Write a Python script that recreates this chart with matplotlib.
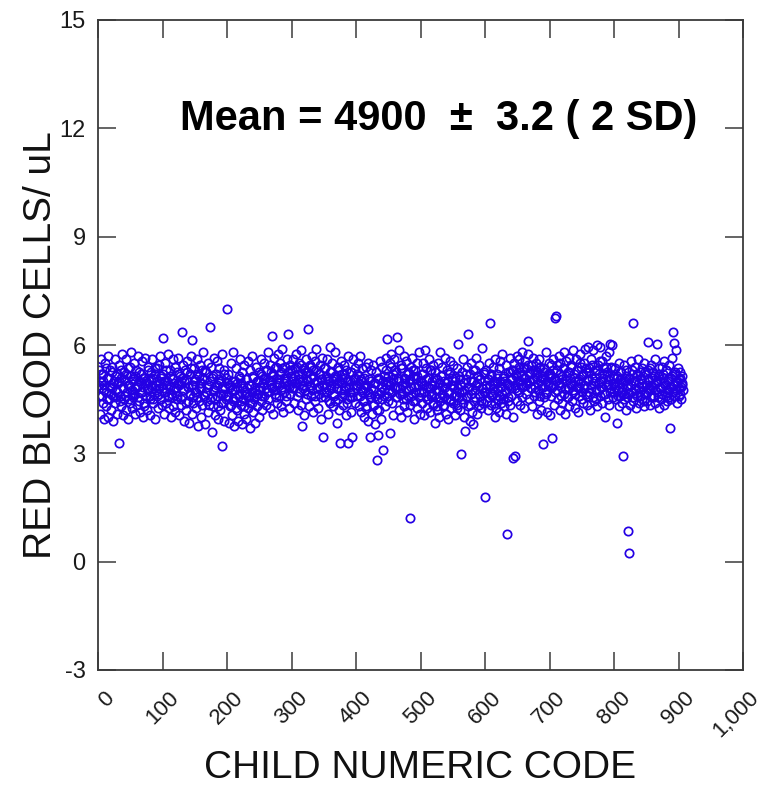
import numpy as np
import matplotlib
matplotlib.use('Agg')
import matplotlib.pyplot as plt
from matplotlib.transforms import ScaledTranslation

plt.rcParams['font.family'] = ['Liberation Sans', 'DejaVu Sans']

# red blood cell counts in blocks of 100 child codes
rbc_001_100 = [5.3, 4.6, 4.1, 5.0, 5.6, 4.8, 4.4, 5.2, 3.95, 4.9,
               5.5, 4.7, 4.3, 5.1, 4.0, 5.7, 4.5, 4.9, 5.3, 4.2,
               4.8, 5.4, 4.6, 3.9, 5.0, 5.6, 4.4, 4.75, 5.2, 4.1,
               4.95, 5.45, 3.3, 4.6, 5.1, 4.3, 5.75, 4.85, 4.05, 5.25,
               4.5, 5.0, 5.6, 4.2, 4.7, 5.35, 3.95, 4.9, 5.15, 4.4,
               5.8, 4.65, 4.25, 5.05, 4.55, 5.5, 4.1, 4.8, 5.3, 4.35,
               4.9, 5.7, 4.45, 5.0, 4.15, 5.2, 4.7, 5.55, 4.0, 4.85,
               5.1, 4.3, 5.65, 4.6, 4.95, 4.2, 5.4, 4.75, 5.0, 4.5,
               4.05, 5.25, 4.8, 5.6, 4.4, 5.1, 4.65, 3.95, 5.35, 4.9,
               4.6, 5.0, 4.25, 5.45, 4.8, 5.7, 4.5, 5.15, 4.35, 6.2]
rbc_101_200 = [5.2, 4.7, 4.1, 5.5, 4.9, 4.4, 5.0, 5.75, 4.6, 4.25,
               5.3, 4.85, 4.0, 5.1, 4.55, 5.6, 4.3, 4.95, 5.4, 4.15,
               4.8, 5.25, 4.5, 5.65, 4.05, 4.9, 5.15, 4.35, 5.0, 6.35,
               4.6, 5.45, 3.9, 4.75, 5.3, 4.2, 5.05, 5.55, 4.45, 4.85,
               3.85, 5.2, 4.65, 5.7, 4.1, 6.15, 4.9, 4.4, 5.35, 4.7,
               5.0, 4.25, 5.6, 4.55, 3.75, 5.15, 4.8, 5.45, 4.0, 4.95,
               5.3, 4.35, 5.8, 4.6, 5.05, 3.8, 4.7, 5.25, 4.45, 5.5,
               4.15, 4.9, 6.5, 4.5, 5.4, 3.6, 5.1, 4.75, 4.3, 5.65,
               4.85, 4.05, 5.2, 4.6, 5.55, 3.95, 4.95, 5.35, 4.2, 5.0,
               4.4, 3.2, 5.75, 4.65, 5.3, 3.9, 4.8, 5.1, 4.5, 7.0]
rbc_201_300 = [4.6, 5.2, 3.85, 4.9, 4.3, 5.5, 4.05, 4.75, 5.8, 4.45,
               3.75, 5.0, 4.55, 5.35, 4.2, 4.85, 3.9, 5.15, 4.65, 5.6,
               4.35, 4.95, 3.8, 5.25, 4.5, 4.1, 5.45, 4.7, 3.95, 5.05,
               4.8, 5.55, 4.25, 4.6, 3.7, 5.3, 4.9, 4.4, 5.7, 4.15,
               5.1, 4.55, 3.85, 4.75, 5.4, 4.3, 5.0, 4.65, 5.25, 4.0,
               4.85, 5.6, 4.45, 5.15, 4.2, 4.95, 5.5, 4.6, 5.05, 4.35,
               5.3, 4.7, 5.8, 4.5, 5.0, 4.25, 5.45, 4.9, 6.25, 4.8,
               5.2, 4.1, 5.65, 4.75, 5.35, 4.55, 5.05, 4.4, 5.75, 4.95,
               4.6, 5.5, 4.3, 5.25, 4.85, 5.9, 4.15, 5.1, 4.7, 5.4,
               5.0, 4.45, 5.6, 4.9, 6.3, 4.25, 5.3, 4.65, 5.15, 4.8]
rbc_301_400 = [5.3, 4.8, 5.6, 4.4, 5.15, 4.95, 5.75, 4.6, 5.4, 4.2,
               5.05, 5.5, 4.7, 5.85, 4.35, 5.2, 3.75, 4.9, 5.35, 4.05,
               4.75, 5.6, 4.5, 5.25, 5.0, 6.45, 4.3, 5.45, 4.85, 5.1,
               4.6, 5.7, 4.15, 5.3, 4.95, 5.55, 4.45, 5.9, 4.8, 5.0,
               4.25, 5.2, 4.65, 5.45, 3.95, 5.05, 4.9, 5.65, 3.45, 4.7,
               5.35, 4.55, 5.15, 4.85, 5.6, 4.1, 5.0, 4.75, 5.95, 4.4,
               5.25, 4.9, 5.5, 4.3, 5.1, 4.65, 5.8, 4.45, 5.05, 3.85,
               4.8, 5.4, 4.2, 5.0, 3.3, 4.95, 5.55, 4.6, 5.2, 4.35,
               5.45, 4.75, 5.1, 4.05, 5.3, 4.5, 5.7, 3.3, 4.85, 5.0,
               4.55, 5.25, 4.15, 3.45, 5.6, 4.7, 5.05, 4.4, 5.35, 4.9]
rbc_401_500 = [5.2, 4.6, 5.5, 4.3, 4.95, 5.7, 4.15, 5.05, 4.7, 5.35,
               4.45, 5.1, 4.0, 4.8, 5.4, 4.25, 4.9, 5.5, 3.9, 4.65,
               5.0, 3.45, 4.55, 5.3, 4.1, 4.75, 5.45, 4.35, 3.8, 4.95,
               5.25, 2.82, 4.5, 3.5, 5.05, 4.2, 5.55, 4.7, 3.95, 4.85,
               5.4, 3.1, 4.6, 5.15, 4.3, 5.65, 4.9, 6.18, 4.45, 5.0,
               4.75, 5.5, 3.55, 4.95, 5.75, 4.4, 5.2, 4.05, 5.6, 4.8,
               5.3, 4.55, 6.22, 4.85, 5.1, 4.2, 5.85, 4.65, 5.45, 4.0,
               4.9, 5.35, 4.5, 5.7, 4.3, 5.05, 4.75, 5.55, 4.15, 5.25,
               4.6, 5.0, 4.35, 1.2, 5.4, 4.85, 5.65, 4.45, 5.15, 3.95,
               5.3, 4.7, 5.05, 4.25, 5.5, 4.9, 4.55, 5.8, 4.1, 5.0]
rbc_501_600 = [4.7, 5.2, 4.4, 5.5, 4.05, 4.9, 5.85, 4.6, 5.35, 4.25,
               5.1, 4.5, 5.6, 4.8, 4.15, 5.3, 4.65, 5.0, 4.35, 5.45,
               4.9, 3.85, 5.25, 4.55, 5.05, 4.2, 5.5, 4.75, 4.0, 5.8,
               4.45, 5.15, 4.85, 5.4, 4.3, 5.0, 4.6, 5.65, 4.1, 4.95,
               5.3, 4.7, 3.95, 5.2, 4.5, 5.55, 4.25, 4.9, 5.1, 4.4,
               5.45, 4.8, 4.05, 5.0, 4.6, 5.35, 4.35, 6.04, 4.7, 5.15,
               4.2, 4.9, 2.97, 5.25, 4.5, 5.6, 4.0, 4.75, 3.63, 5.05,
               4.55, 5.4, 4.3, 6.3, 4.85, 5.2, 3.9, 4.65, 5.5, 4.15,
               3.8, 5.0, 4.45, 5.3, 4.75, 5.65, 4.1, 4.95, 5.15, 4.35,
               5.45, 4.6, 5.05, 4.25, 5.93, 4.8, 4.4, 5.25, 4.7, 1.78]
rbc_601_700 = [4.9, 5.3, 4.45, 5.05, 4.2, 5.5, 4.7, 6.62, 4.35, 5.15,
               4.6, 5.4, 4.8, 5.0, 4.0, 5.6, 4.25, 4.95, 5.2, 4.5,
               5.35, 4.15, 4.85, 5.55, 4.4, 5.76, 4.65, 5.1, 4.3, 5.0,
               4.75, 5.45, 4.1, 0.77, 5.25, 4.55, 4.9, 5.65, 4.35, 5.05,
               4.6, 5.3, 2.88, 4.0, 5.5, 2.92, 4.8, 5.15, 4.45, 5.7,
               5.0, 4.7, 5.6, 4.35, 5.25, 4.9, 5.8, 4.55, 5.4, 4.25,
               5.1, 5.55, 4.65, 5.35, 4.95, 5.75, 6.1, 4.5, 5.2, 5.0,
               4.8, 5.45, 4.3, 5.65, 5.05, 4.6, 5.3, 4.85, 5.5, 4.1,
               5.25, 4.75, 5.6, 4.45, 5.0, 5.4, 4.2, 5.15, 4.9, 3.27,
               4.55, 5.35, 5.05, 4.7, 5.8, 4.15, 5.2, 4.95, 5.5, 4.05]
rbc_701_800 = [5.2, 4.6, 5.45, 3.43, 4.9, 5.6, 4.35, 6.76, 5.05, 6.8,
               4.75, 5.3, 4.5, 5.7, 4.95, 4.2, 5.5, 4.85, 5.15, 4.4,
               5.35, 4.65, 5.8, 4.1, 5.0, 5.55, 4.55, 5.25, 4.8, 5.65,
               4.3, 5.1, 4.9, 5.45, 4.45, 5.85, 4.7, 5.2, 4.25, 5.0,
               5.6, 4.85, 5.3, 4.15, 5.05, 4.6, 5.75, 4.95, 5.4, 4.5,
               5.15, 4.4, 5.5, 4.8, 5.9, 4.65, 5.25, 4.35, 5.0, 5.95,
               4.7, 5.35, 4.2, 5.6, 4.9, 5.1, 4.55, 5.85, 4.45, 5.3,
               5.0, 4.75, 6.0, 4.3, 5.45, 4.95, 5.2, 4.6, 5.95, 4.85,
               5.55, 4.4, 5.1, 4.65, 5.35, 4.0, 5.7, 4.9, 5.25, 4.5,
               5.05, 5.8, 4.35, 6.04, 4.8, 5.4, 6.0, 4.55, 5.15, 4.7]
rbc_801_907 = [4.95, 5.35, 4.5, 5.15, 3.85, 4.75, 5.5, 4.3, 5.05, 4.6,
               5.25, 4.85, 4.4, 2.93, 5.45, 4.65, 5.0, 4.2, 5.3, 4.55,
               4.9, 0.85, 0.25, 5.1, 4.35, 5.55, 4.7, 5.2, 6.62, 4.45,
               5.0, 4.8, 5.4, 4.25, 5.15, 4.6, 5.6, 4.95, 4.4, 5.25,
               4.7, 5.05, 4.5, 5.35, 4.85, 4.3, 5.5, 4.65, 5.2, 4.9,
               4.45, 5.3, 6.07, 4.75, 5.0, 4.35, 5.45, 4.6, 5.1, 4.85,
               5.25, 4.55, 5.6, 4.4, 4.95, 6.04, 4.7, 5.15, 4.25, 5.35,
               4.8, 5.05, 4.5, 5.4, 4.65, 5.2, 4.35, 5.55, 4.9, 4.6,
               5.3, 4.45, 5.0, 4.75, 5.45, 4.55, 3.7, 5.1, 4.85, 5.65,
               6.35, 4.7, 6.05, 5.2, 4.6, 5.85, 4.95, 4.4, 5.35, 4.8,
               5.05, 4.65, 5.25, 4.5, 4.9, 5.15, 4.75]

# second reading of every even child code (the dense core of the band)
rbc2_001_100 = [4.9, 5.2, 4.6, 5.0, 4.75, 5.35, 4.5, 5.1, 4.85, 4.65,
                5.25, 4.95, 4.55, 5.15, 4.7, 5.0, 4.45, 5.3, 4.8, 5.05,
                4.6, 5.2, 4.9, 4.5, 5.4, 4.75, 5.0, 4.65, 5.15, 4.85,
                4.55, 5.25, 4.95, 4.7, 5.1, 4.4, 5.0, 4.8, 5.3, 4.6,
                5.05, 4.9, 4.5, 5.2, 4.75, 5.35, 4.65, 4.95, 5.1, 4.8]
rbc2_101_200 = [5.0, 4.7, 5.3, 4.55, 4.9, 5.15, 4.65, 5.05, 4.8, 5.4,
                4.6, 4.95, 5.2, 4.5, 5.1, 4.75, 5.0, 4.4, 5.25, 4.85,
                4.65, 5.35, 4.9, 4.55, 5.05, 4.7, 5.2, 4.45, 4.95, 4.8,
                5.1, 4.6, 5.3, 4.7, 4.85, 4.35, 5.0, 4.55, 5.15, 4.75,
                4.5, 4.9, 4.3, 5.05, 4.65, 4.8, 4.4, 5.2, 4.6, 4.95]
rbc2_201_300 = [4.6, 4.85, 4.35, 5.0, 4.5, 4.75, 4.25, 4.95, 4.6, 5.1,
                4.45, 4.8, 4.3, 4.65, 5.05, 4.55, 4.9, 4.4, 4.7, 5.15,
                4.5, 4.85, 4.65, 5.0, 4.75, 5.2, 4.6, 4.95, 5.1, 4.8,
                5.3, 4.7, 5.0, 5.25, 4.85, 5.15, 4.65, 5.4, 4.9, 5.05,
                5.2, 4.75, 5.35, 4.95, 5.1, 4.6, 5.25, 4.85, 5.45, 5.0]
rbc2_301_400 = [5.1, 4.85, 5.35, 4.95, 5.2, 4.7, 5.45, 5.0, 4.8, 5.3,
                5.05, 4.65, 5.25, 4.9, 5.4, 4.75, 5.15, 4.6, 5.3, 5.0,
                4.85, 5.2, 4.55, 5.05, 4.9, 5.35, 4.7, 5.1, 4.45, 5.25,
                4.8, 5.0, 4.6, 5.15, 4.95, 4.5, 5.3, 4.75, 5.05, 4.65,
                5.2, 4.85, 4.4, 5.0, 4.7, 5.25, 4.55, 4.9, 5.1, 4.8]
rbc2_401_500 = [4.9, 5.15, 4.6, 5.0, 4.75, 4.45, 4.9, 4.3, 4.7, 5.05,
                4.55, 4.8, 4.35, 4.95, 4.6, 4.2, 5.1, 4.65, 4.85, 4.5,
                5.0, 4.75, 5.3, 4.6, 5.15, 4.9, 5.4, 4.7, 5.05, 4.85,
                5.25, 4.55, 5.0, 4.8, 5.35, 4.65, 5.1, 4.95, 4.5, 5.2,
                4.75, 5.05, 4.6, 5.3, 4.85, 4.45, 5.15, 4.9, 4.7, 5.0]
rbc2_501_600 = [4.95, 5.2, 4.7, 5.05, 4.5, 4.85, 5.3, 4.6, 4.9, 4.4,
                5.1, 4.75, 4.3, 4.95, 4.55, 5.15, 4.65, 4.35, 4.85, 4.5,
                5.0, 4.7, 5.25, 4.45, 4.9, 4.6, 5.1, 4.25, 4.8, 4.55,
                5.05, 4.7, 4.4, 4.95, 5.2, 4.6, 4.85, 4.35, 5.0, 4.75,
                5.3, 4.55, 4.9, 5.15, 4.65, 5.05, 4.45, 4.8, 5.2, 4.7]
rbc2_601_700 = [4.8, 5.05, 4.55, 4.9, 5.2, 4.65, 4.95, 4.4, 5.1, 4.75,
                4.6, 5.0, 4.85, 4.5, 5.15, 4.7, 4.95, 4.45, 5.25, 4.8,
                5.05, 5.3, 4.9, 5.2, 4.75, 5.4, 5.0, 5.15, 4.85, 5.35,
                5.1, 4.9, 5.45, 5.0, 5.25, 4.8, 5.3, 5.05, 4.7, 5.2,
                4.95, 5.35, 4.6, 5.1, 4.85, 5.25, 4.65, 5.0, 4.9, 5.15]
rbc2_701_800 = [5.1, 4.85, 5.3, 4.7, 5.0, 5.45, 4.9, 5.2, 4.6, 5.05,
                5.35, 4.8, 5.15, 4.55, 5.25, 4.95, 5.4, 4.75, 5.1, 4.65,
                5.3, 5.0, 4.85, 5.5, 4.7, 5.2, 4.9, 5.35, 4.6, 5.05,
                5.25, 4.8, 5.45, 4.95, 5.1, 4.5, 5.3, 4.75, 5.55, 5.0,
                4.85, 5.2, 4.65, 5.4, 4.9, 5.15, 4.7, 5.35, 4.95, 5.1]
rbc2_801_906 = [4.85, 5.1, 4.6, 4.95, 5.25, 4.7, 5.0, 4.5, 5.15, 4.8,
                4.65, 5.05, 4.9, 5.3, 4.55, 5.0, 4.75, 5.2, 4.85, 4.6,
                5.1, 4.95, 4.45, 5.25, 4.7, 5.05, 4.8, 5.35, 4.9, 4.6,
                5.15, 4.75, 5.0, 4.55, 5.2, 4.85, 4.65, 5.1, 4.95, 5.3,
                4.7, 5.05, 4.8, 4.5, 5.15, 4.9, 5.25, 4.75, 5.0, 4.6,
                5.1, 4.85, 4.95]

rbc = (rbc_001_100 + rbc_101_200 + rbc_201_300 + rbc_301_400 + rbc_401_500
       + rbc_501_600 + rbc_601_700 + rbc_701_800 + rbc_801_907)
child_code = np.arange(1, len(rbc) + 1)
rbc2 = (rbc2_001_100 + rbc2_101_200 + rbc2_201_300 + rbc2_301_400 + rbc2_401_500
        + rbc2_501_600 + rbc2_601_700 + rbc2_701_800 + rbc2_801_906)
child_code2 = np.arange(2, 2 * len(rbc2) + 1, 2)

x_ticks = [0, 100, 200, 300, 400, 500, 600, 700, 800, 900, 1000]
x_tick_labels = ['0', '100', '200', '300', '400', '500', '600', '700', '800', '900', '1,000']
y_ticks = [-3, 0, 3, 6, 9, 12, 15]

axis_col = '#3a3a3a'
pt_col = '#2400E4'

fig = plt.figure(figsize=(7.72, 7.92), dpi=100)
ax = fig.add_axes([98 / 772, 122 / 792, 645 / 772, 650 / 792])

ax.plot(child_code, rbc, linestyle='none', marker='o', ms=6.0,
        mfc='none', mec=pt_col, mew=1.25)
ax.plot(child_code2, rbc2, linestyle='none', marker='o', ms=6.0,
        mfc='none', mec=pt_col, mew=1.25)

ax.set_xlim(0, 1000)
ax.set_ylim(-3, 15)
ax.set_xticks(x_ticks)
ax.set_xticklabels(x_tick_labels, rotation=45, ha='right', va='center',
                   rotation_mode='anchor', fontsize=16, color='#1a1a1a')
ax.set_yticks(y_ticks)
ax.set_yticklabels([str(v) for v in y_ticks], fontsize=17, color='#1a1a1a')

ax.tick_params(axis='both', direction='in', length=13, width=1.1,
               color=axis_col, top=True, right=True)
ax.tick_params(axis='y', pad=9)
ax.tick_params(axis='x', pad=18)
for lbl in ax.get_xticklabels():
    lbl.set_transform(lbl.get_transform() + ScaledTranslation(0.13, 0, fig.dpi_scale_trans))

for sp in ax.spines.values():
    sp.set_color(axis_col)
    sp.set_linewidth(1.3)

ax.set_xlabel('CHILD NUMERIC CODE', fontsize=28, color='#111111')
ax.xaxis.set_label_coords(0.5, -0.123)
ax.set_ylabel('RED BLOOD CELLS/ uL', fontsize=28, color='#111111')
ax.yaxis.set_label_coords(-0.06, 0.5)

ax.text(0.127, 0.831, 'Mean = 4900  \u00b1  3.2 ( 2 SD)', transform=ax.transAxes,
        fontsize=30, fontweight='bold', ha='left', va='baseline', color='black')

fig.savefig('out.png', dpi=100)
